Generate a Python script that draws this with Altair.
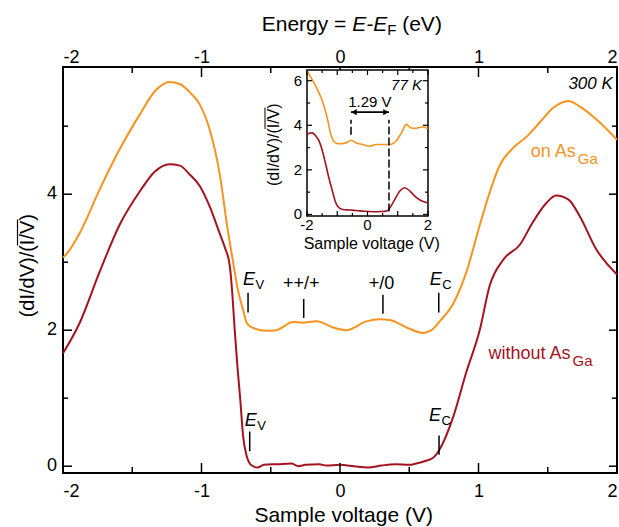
import altair as alt
import pandas as pd

# ---------------- data ----------------
# main panel (300 K): sample voltage (V) -> (dI/dV)/(I/V)
v_on = [-2.0, -1.988, -1.879, -1.735, -1.591, -1.446, -1.338, -1.23, -1.157, -1.085,
        -1.013, -0.941, -0.868, -0.811, -0.775, -0.738, -0.70, -0.674, -0.637, -0.53,
        -0.46, -0.34, -0.27, -0.17, -0.05, 0.046, 0.19, 0.29, 0.36, 0.48,
        0.60, 0.66, 0.72, 0.82, 0.91, 1.01, 1.08, 1.15, 1.25, 1.35,
        1.44, 1.54, 1.65, 1.73, 1.85, 2.0]
g_on = [3.07, 3.09, 3.43, 4.07, 4.66, 5.17, 5.51, 5.65, 5.62, 5.50,
        5.32, 4.95, 4.29, 3.48, 3.04, 2.60, 2.30, 2.11, 2.04, 1.99,
        2.00, 2.12, 2.11, 2.13, 2.04, 2.00, 2.13, 2.16, 2.15, 2.04,
        1.96, 2.00, 2.13, 2.40, 2.84, 3.55, 4.02, 4.41, 4.68, 4.85,
        5.05, 5.27, 5.37, 5.29, 5.10, 4.80]

v_wo = [-2.0, -1.879, -1.735, -1.591, -1.446, -1.338, -1.23, -1.157, -1.085, -1.013,
        -0.941, -0.868, -0.832, -0.796, -0.778, -0.76, -0.74, -0.72, -0.70, -0.674,
        -0.637, -0.594, -0.55, -0.45, -0.35, -0.30, -0.25, -0.15, -0.10, 0.0,
        0.10, 0.20, 0.30, 0.40, 0.50, 0.55, 0.62, 0.67, 0.72, 0.82,
        0.91, 1.01, 1.08, 1.18, 1.30, 1.39, 1.49, 1.56, 1.65, 1.73,
        1.85, 2.0]
g_wo = [1.66, 2.11, 2.86, 3.55, 4.04, 4.33, 4.44, 4.42, 4.29, 4.12,
        3.82, 3.42, 3.22, 2.95, 2.55, 2.00, 1.45, 0.98, 0.45, 0.15,
        0.01, -0.02, 0.02, 0.03, 0.04, 0.00, 0.02, 0.03, 0.01, 0.02,
        0.00, -0.02, 0.01, 0.03, 0.02, 0.04, 0.08, 0.12, 0.25, 0.74,
        1.37, 2.01, 2.65, 3.04, 3.26, 3.58, 3.87, 3.98, 3.92, 3.68,
        3.19, 2.82]

# inset (77 K)
iv_on = [-2.0, -1.83, -1.66, -1.49, -1.32, -1.21, -1.10, -0.93, -0.71, -0.54, -0.38, -0.16,
         0.07, 0.29, 0.51, 0.73, 0.96, 1.12, 1.29, 1.42, 1.57, 1.79, 2.0]
ig_on = [6.45, 6.05, 5.61, 5.08, 4.26, 3.59, 3.26, 3.17, 3.21, 3.33, 3.21, 3.14,
         3.06, 3.14, 3.14, 3.14, 3.32, 3.66, 4.04, 3.89, 3.86, 3.92, 3.86]
iv_wo = [-2.0, -1.9, -1.83, -1.7, -1.6, -1.49, -1.38, -1.27, -1.16, -1.07, -0.99, -0.82, -0.6,
         -0.38, -0.1, 0.18, 0.45, 0.62, 0.7, 0.84, 1.07, 1.23, 1.4, 1.62, 1.8, 2.0]
ig_wo = [3.59, 3.65, 3.66, 3.5, 3.29, 2.85, 2.24, 1.6, 1.05, 0.6, 0.37, 0.22, 0.2,
         0.18, 0.14, 0.12, 0.13, 0.15, 0.22, 0.52, 1.05, 1.2, 1.05, 0.75, 0.6, 0.52]

# ticks and tick labels
x_major = [-2, -1, 0, 1, 2]
x_minor = [-1.5, -0.5, 0.5, 1.5]
y_major = [0, 2, 4]
y_labels = ["0", "2", "4"]
y_minor = [1, 3, 5]
ix_major = [-2, -1, 0, 1, 2]
ix_minor = [-1.5, -0.5, 0.5, 1.5]
ix_labels = [-2, 0, 2]
ix_label_text = ["-2", "0", "2"]
iy_major = [0, 2, 4, 6]
iy_label_text = ["0", "2", "4", "6"]
iy_minor = [1, 3, 5]

# annotation marks (main panel)
ann_x = [-0.664, -0.262, 0.31, 0.713, -0.652, 0.715]
ann_y0 = [2.26, 2.18, 2.24, 2.26, 0.22, 0.17]
ann_y1 = [2.55, 2.46, 2.52, 2.55, 0.51, 0.45]
e_x = [-0.70, 0.648, -0.688, 0.643]
e_y = [2.67, 2.67, 0.59, 0.66]
e_main = ["E", "E", "E", "E"]
e_sub = ["V", "C", "V", "C"]
q_text = ["++/+", "+/0"]
q_x = [-0.279, 0.299]
q_y = [2.60, 2.60]
curve_lbl = ["on As", "without As"]
curve_sub = ["Ga", "Ga"]
curve_x = [1.702, 1.664]
curve_y = [4.55, 1.57]
temp_main = "300 K"
temp_main_xy = (1.97, 5.54)

# inset annotations
gap_lines_x = [-0.545, 0.71]
gap_lines_y0 = [3.57, 0.13]
gap_lines_y1 = [4.25, 4.25]
gap_arrow = (-0.545, 0.71, 4.59)
gap_text = "1.29 V"
gap_text_xy = (0.08, 4.81)
temp_inset = "77 K"
temp_inset_xy = (1.80, 5.59)

title_top = ["Energy =", "E-E", "F", "(eV)"]
title_bottom = "Sample voltage (V)"
title_y = "(dI/dV)/(I/V)"
inset_title_x = "Sample voltage (V)"

# ---------------- styling ----------------
FONT = "Liberation Sans"
ORANGE = "#F7931E"
DARKRED = "#A3141E"
ORANGE_TXT = "#F26A36"
W, H = 554, 406

XS = alt.Scale(domain=[-2, 2], nice=False, zero=False)
YS = alt.Scale(domain=[-0.1, 5.87], nice=False, zero=False)
IXS = alt.Scale(domain=[-2, 2], range=[244, 365], nice=False, zero=False)
IYS = alt.Scale(domain=[-0.07, 6.48], range=[149, 3], nice=False, zero=False)

AX = dict(domain=False, ticks=False, grid=False, labelFont=FONT, labelFontSize=18,
          labelColor="black", title=None, labelExpr="'' + datum.value")


def df1(**cols):
    return pd.DataFrame(cols)


def txt(s, x, y, size, **kw):
    return alt.Chart(df1(t=[s])).mark_text(font=FONT, fontSize=size, color="black", **kw).encode(
        text="t:N", x=alt.value(x), y=alt.value(y))


# ---------------- main panel ----------------
df_main = pd.DataFrame({
    "V": v_on + v_wo,
    "G": g_on + g_wo,
    "S": ["on"] * len(v_on) + ["without"] * len(v_wo),
})

curves = alt.Chart(df_main).mark_line(strokeWidth=2, interpolate="monotone").encode(
    x=alt.X("V:Q", scale=XS, axis=alt.Axis(orient="bottom", values=x_major, labelPadding=9, **AX)),
    y=alt.Y("G:Q", scale=YS, axis=None),
    color=alt.Color("S:N", scale=alt.Scale(domain=["on", "without"], range=[ORANGE, DARKRED]), legend=None),
    detail="S:N",
)


def xticks(vals, y0, y1, axis=None):
    return alt.Chart(df1(t=vals)).mark_rule(color="black", strokeWidth=1.5).encode(
        x=alt.X("t:Q", scale=XS, axis=axis), y=alt.value(y0), y2=alt.value(y1))


def yticks(vals, x0, x1):
    return alt.Chart(df1(t=vals)).mark_rule(color="black", strokeWidth=1.5).encode(
        y=alt.Y("t:Q", scale=YS, axis=None), x=alt.value(x0), x2=alt.value(x1))


ticks = [
    xticks(x_major, H, H - 10),
    xticks(x_minor, H, H - 6),
    xticks(x_major, 0, 10, axis=alt.Axis(orient="top", values=x_major, labelPadding=1, **AX)),
    xticks(x_minor, 0, 6),
    yticks(y_major, 0, 9),
    yticks(y_minor, 0, 5),
    yticks(y_major, W, W - 8),
    yticks(y_minor, W, W - 5),
]

y_lab = alt.Chart(df1(t=y_major, s=y_labels)).mark_text(
    font=FONT, fontSize=18, align="right", baseline="middle", color="black").encode(
    y=alt.Y("t:Q", scale=YS, axis=None), x=alt.value(-6), text="s:N")

ann_ticks = alt.Chart(df1(x=ann_x, y0=ann_y0, y1=ann_y1)).mark_rule(color="black", strokeWidth=1.5).encode(
    x=alt.X("x:Q", scale=XS, axis=None), y=alt.Y("y0:Q", scale=YS, axis=None), y2="y1:Q")

df_e = df1(x=e_x, y=e_y, m=e_main, s=e_sub)
e_lbl = alt.Chart(df_e).mark_text(font=FONT, fontSize=18, fontStyle="italic", align="left",
                                  baseline="alphabetic", color="black").encode(
    x=alt.X("x:Q", scale=XS, axis=None), y=alt.Y("y:Q", scale=YS, axis=None), text="m:N")
e_sublbl = alt.Chart(df_e).mark_text(font=FONT, fontSize=13, align="left", baseline="alphabetic",
                                     dx=12.5, dy=4, color="black").encode(
    x=alt.X("x:Q", scale=XS, axis=None), y=alt.Y("y:Q", scale=YS, axis=None), text="s:N")

q_lbl = alt.Chart(df1(x=q_x, y=q_y, t=q_text)).mark_text(font=FONT, fontSize=18, align="center",
                                                          baseline="alphabetic", color="black").encode(
    x=alt.X("x:Q", scale=XS, axis=None), y=alt.Y("y:Q", scale=YS, axis=None), text="t:N")

df_c = df1(x=curve_x, y=curve_y, t=curve_lbl, s=curve_sub, k=["on", "without"])
c_color = alt.Color("k:N", scale=alt.Scale(domain=["on", "without"], range=[ORANGE_TXT, DARKRED]), legend=None)
c_lbl = alt.Chart(df_c).mark_text(font=FONT, fontSize=18, align="right", baseline="alphabetic").encode(
    x=alt.X("x:Q", scale=XS, axis=None), y=alt.Y("y:Q", scale=YS, axis=None), text="t:N", color=c_color)
c_sub = alt.Chart(df_c).mark_text(font=FONT, fontSize=15, align="left", baseline="alphabetic",
                                  dx=2, dy=7).encode(
    x=alt.X("x:Q", scale=XS, axis=None), y=alt.Y("y:Q", scale=YS, axis=None), text="s:N", color=c_color)

t300 = alt.Chart(df1(x=[temp_main_xy[0]], y=[temp_main_xy[1]], t=[temp_main])).mark_text(
    font=FONT, fontSize=17, fontStyle="italic", align="right", baseline="alphabetic", color="black").encode(
    x=alt.X("x:Q", scale=XS, axis=None), y=alt.Y("y:Q", scale=YS, axis=None), text="t:N")

titles = [
    txt(title_top[0], 198.7, -36.3, 21, align="left", baseline="alphabetic"),
    txt(title_top[1], 289.2, -36.3, 21, align="left", baseline="alphabetic", fontStyle="italic"),
    txt(title_top[2], 324.2, -32.0, 15, align="left", baseline="alphabetic"),
    txt(title_top[3], 339.2, -36.3, 21, align="left", baseline="alphabetic"),
    txt(title_bottom, 280.7, 454.7, 21, align="center", baseline="alphabetic"),
    txt(title_y, -35, 198.7, 20, align="center", baseline="middle", angle=270),
    alt.Chart(df1(a=[0])).mark_rule(color="black", strokeWidth=1.2).encode(
        x=alt.value(-45.5), y=alt.value(152.5), y2=alt.value(178.5)),
]

main = alt.layer(curves, *ticks, y_lab, ann_ticks, e_lbl, e_sublbl, q_lbl, c_lbl, c_sub, t300, *titles
                 ).resolve_axis(x="independent")

# ---------------- inset ----------------
IX0, IX1, IY0, IY1 = 244, 365, 3, 149

frame = alt.Chart(df1(x0=[-2], x1=[2], y0=[-0.07], y1=[6.48])).mark_rect(
    fill="white", stroke="black", strokeWidth=1.5).encode(
    x=alt.X("x0:Q", scale=IXS, axis=None), x2="x1:Q", y=alt.Y("y0:Q", scale=IYS, axis=None), y2="y1:Q")

df_in = pd.DataFrame({
    "V": iv_on + iv_wo,
    "G": ig_on + ig_wo,
    "S": ["on"] * len(iv_on) + ["without"] * len(iv_wo),
})
icurves = alt.Chart(df_in).mark_line(strokeWidth=1.6, interpolate="monotone").encode(
    x=alt.X("V:Q", scale=IXS, axis=None),
    y=alt.Y("G:Q", scale=IYS, axis=None),
    color=alt.Color("S:N", scale=alt.Scale(domain=["on", "without"], range=[ORANGE, DARKRED]), legend=None),
    detail="S:N",
)


def ixt(vals, y0, y1):
    return alt.Chart(df1(t=vals)).mark_rule(color="black", strokeWidth=1.2).encode(
        x=alt.X("t:Q", scale=IXS, axis=None), y=alt.value(y0), y2=alt.value(y1))


def iyt(vals, x0, x1):
    return alt.Chart(df1(t=vals)).mark_rule(color="black", strokeWidth=1.2).encode(
        y=alt.Y("t:Q", scale=IYS, axis=None), x=alt.value(x0), x2=alt.value(x1))


iticks = [
    ixt(ix_major, IY1, IY1 - 5), ixt(ix_minor, IY1, IY1 - 3),
    ixt(ix_major, IY0, IY0 + 5), ixt(ix_minor, IY0, IY0 + 3),
    iyt(iy_major, IX0, IX0 + 5), iyt(iy_minor, IX0, IX0 + 3),
    iyt(iy_major, IX1, IX1 - 5), iyt(iy_minor, IX1, IX1 - 3),
]

ix_lab = alt.Chart(df1(t=ix_labels, s=ix_label_text)).mark_text(
    font=FONT, fontSize=15, baseline="middle", align="center", color="black").encode(
    x=alt.X("t:Q", scale=IXS, axis=None), y=alt.value(IY1 + 9), text="s:N")
iy_lab = alt.Chart(df1(t=iy_major, s=iy_label_text)).mark_text(
    font=FONT, fontSize=15, baseline="middle", align="right", color="black").encode(
    y=alt.Y("t:Q", scale=IYS, axis=None), x=alt.value(IX0 - 5), text="s:N")

gap_lines = alt.Chart(df1(x=gap_lines_x, y0=gap_lines_y0, y1=gap_lines_y1)).mark_rule(
    color="black", strokeWidth=1.5, strokeDash=[8, 3]).encode(
    x=alt.X("x:Q", scale=IXS, axis=None), y=alt.Y("y0:Q", scale=IYS, axis=None), y2="y1:Q")
arrow_line = alt.Chart(df1(x0=[gap_arrow[0]], x1=[gap_arrow[1]], y=[gap_arrow[2]])).mark_rule(
    color="black", strokeWidth=1.8).encode(
    x=alt.X("x0:Q", scale=IXS, axis=None), x2="x1:Q", y=alt.Y("y:Q", scale=IYS, axis=None))
arrow_l = alt.Chart(df1(x=[gap_arrow[0]], y=[gap_arrow[2]])).mark_point(
    shape="triangle-left", filled=True, color="black", size=40, opacity=1, xOffset=3).encode(
    x=alt.X("x:Q", scale=IXS, axis=None), y=alt.Y("y:Q", scale=IYS, axis=None))
arrow_r = alt.Chart(df1(x=[gap_arrow[1]], y=[gap_arrow[2]])).mark_point(
    shape="triangle-right", filled=True, color="black", size=40, opacity=1, xOffset=-3).encode(
    x=alt.X("x:Q", scale=IXS, axis=None), y=alt.Y("y:Q", scale=IYS, axis=None))
gap_lbl = alt.Chart(df1(x=[gap_text_xy[0]], y=[gap_text_xy[1]], t=[gap_text])).mark_text(
    font=FONT, fontSize=15, align="center", baseline="alphabetic", color="black").encode(
    x=alt.X("x:Q", scale=IXS, axis=None), y=alt.Y("y:Q", scale=IYS, axis=None), text="t:N")
t77 = alt.Chart(df1(x=[temp_inset_xy[0]], y=[temp_inset_xy[1]], t=[temp_inset])).mark_text(
    font=FONT, fontSize=15, fontStyle="italic", align="right", baseline="alphabetic", color="black").encode(
    x=alt.X("x:Q", scale=IXS, axis=None), y=alt.Y("y:Q", scale=IYS, axis=None), text="t:N")

ititles = [
    txt(inset_title_x, 308.7, 177, 16, align="center", baseline="middle"),
    txt(title_y, 210.7, 77.7, 16, align="center", baseline="middle", angle=270),
    alt.Chart(df1(a=[0])).mark_rule(color="black", strokeWidth=1).encode(
        x=alt.value(202), y=alt.value(40.5), y2=alt.value(62)),
]

inset = alt.layer(frame, icurves, *iticks, ix_lab, iy_lab, gap_lines, arrow_line, arrow_l, arrow_r,
                  gap_lbl, t77, *ititles)

chart = alt.layer(main, inset).resolve_scale(x="independent", y="independent").properties(
    width=W, height=H,
    autosize=alt.AutoSizeParams(type="none"),
    padding={"left": 63, "top": 67, "right": 2, "bottom": 54},
    background="white",
).configure_view(stroke="black", strokeWidth=2)

chart.save("out.html", embed_options={"renderer": "svg", "actions": False})
